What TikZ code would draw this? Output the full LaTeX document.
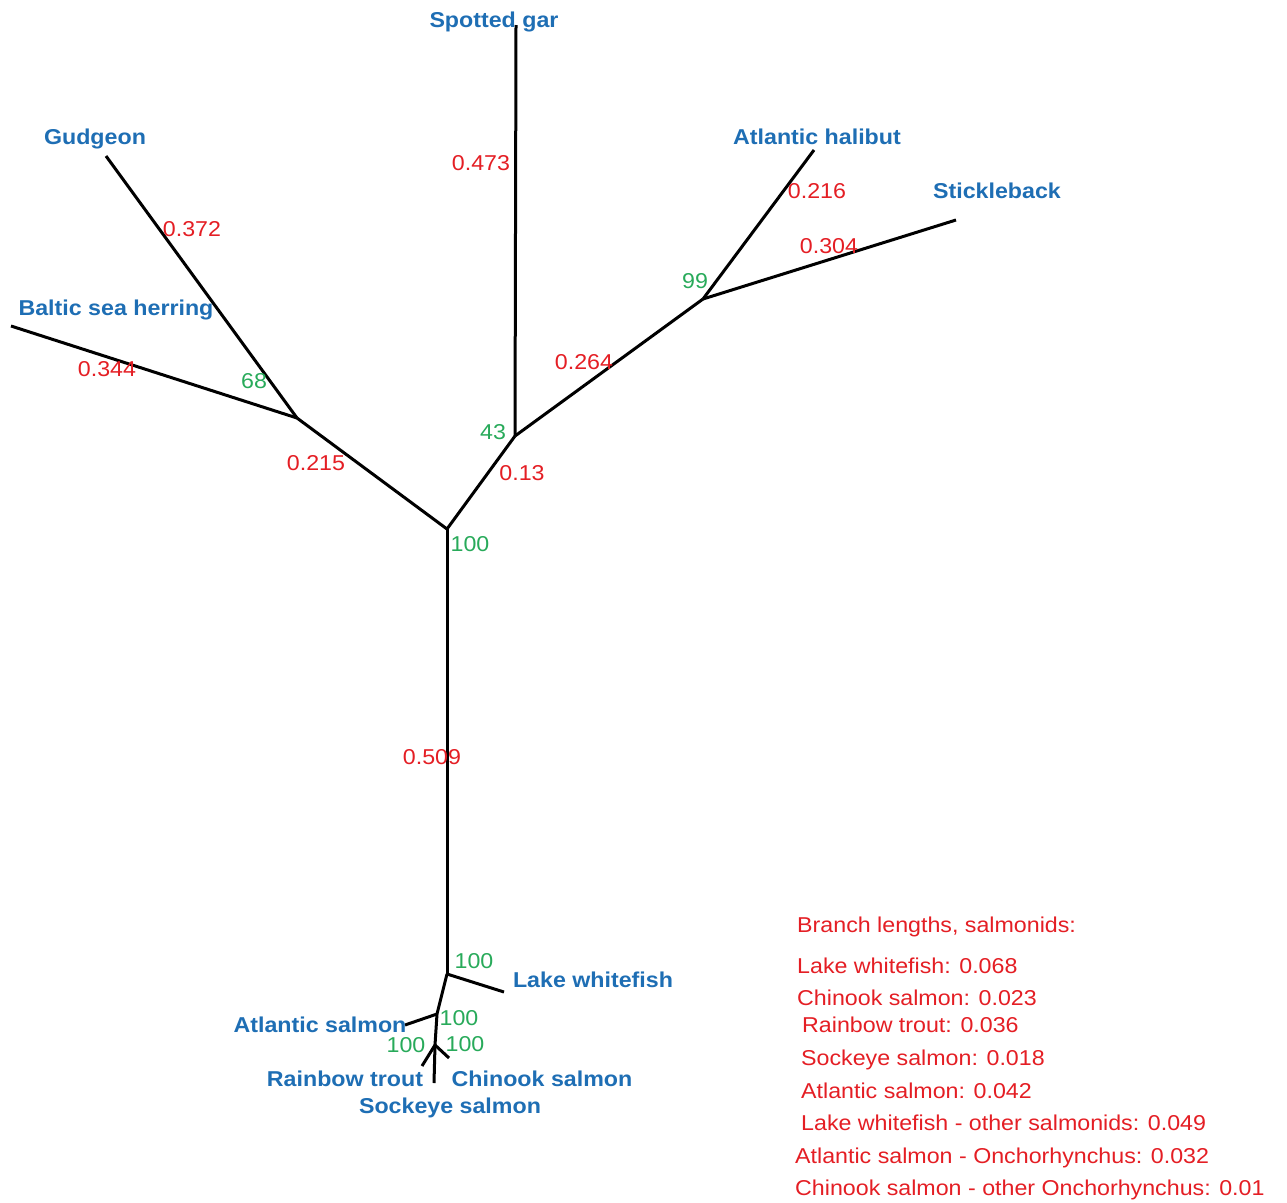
\documentclass[tikz,border=0pt]{standalone}
\usepackage{fontspec}
\setmainfont[FakeStretch=1.08]{Liberation Sans}
\definecolor{tipblue}{RGB}{30,110,180}
\definecolor{lenred}{RGB}{228,30,36}
\definecolor{bootgreen}{RGB}{40,170,90}
\begin{document}
\begin{tikzpicture}[x=1pt,y=-1pt,
  branch/.style={line width=3pt,black,line cap=butt,line join=round},
  lbl/.style={inner sep=0pt,text height=15.5pt,text depth=0pt,font=\fontsize{21.5}{25}\selectfont},
  tip/.style={lbl,text=tipblue,font=\fontsize{21.5}{25}\selectfont\bfseries},
  blen/.style={lbl,text=lenred},
  boot/.style={lbl,text=bootgreen},
  legend/.style={lbl,text=lenred,anchor=west}]
\useasboundingbox (0,0) rectangle (1287,1202);
% internal nodes
\coordinate (R) at (447,529);
\coordinate (L) at (297,418);
\coordinate (M) at (515,436);
\coordinate (H) at (703,299);
\coordinate (S1) at (447,974);
\coordinate (S2) at (437,1014);
\coordinate (S3) at (435,1045);
% tips
\coordinate (tGud) at (106,156);
\coordinate (tBal) at (11,326);
\coordinate (tGar) at (516,25);
\coordinate (tHal) at (814,150);
\coordinate (tSti) at (956,220);
\coordinate (tLak) at (504,992);
\coordinate (tAtl) at (405,1025);
\coordinate (tRai) at (422,1066);
\coordinate (tChi) at (449,1058);
\coordinate (tSoc) at (434,1083);
% branches
\draw[branch] (R) -- (S1);
\draw[branch] (R) -- (L);
\draw[branch] (L) -- (tGud);
\draw[branch] (L) -- (tBal);
\draw[branch] (R) -- (M);
\draw[branch] (M) -- (tGar);
\draw[branch] (M) -- (H);
\draw[branch] (H) -- (tHal);
\draw[branch] (H) -- (tSti);
\draw[branch] (S1) -- (tLak);
\draw[branch] (S1) -- (S2);
\draw[branch] (S2) -- (tAtl);
\draw[branch] (S2) -- (S3);
\draw[branch] (S3) -- (tRai);
\draw[branch] (S3) -- (tChi);
\draw[branch] (S3) -- (tSoc);
% tip labels
\node[tip] (nGar) at (494,20) {Spotted gar};
\node[tip] (nGud) at (95,137) {Gudgeon};
\node[tip] (nBal) at (116,308) {Baltic sea herring};
\node[tip] (nHal) at (817,137) {Atlantic halibut};
\node[tip] (nSti) at (997,191) {Stickleback};
\node[tip] (nLak) at (593,980) {Lake whitefish};
\node[tip] (nAtl) at (320,1025) {Atlantic salmon};
\node[tip] (nRai) at (345,1079) {Rainbow trout};
\node[tip] (nChi) at (542,1079) {Chinook salmon};
\node[tip] (nSoc) at (450,1106) {Sockeye salmon};
% branch lengths
\node[blen] (b1) at (481,163) {0.473};
\node[blen] (b2) at (192,229) {0.372};
\node[blen] (b3) at (107,369) {0.344};
\node[blen] (b4) at (316,463) {0.215};
\node[blen] (b5) at (817,191) {0.216};
\node[blen] (b6) at (829,246) {0.304};
\node[blen] (b7) at (584,362) {0.264};
\node[blen] (b8) at (522,473) {0.13};
\node[blen] (b9) at (432,757) {0.509};
% bootstrap values
\node[boot] (g1) at (254,381) {68};
\node[boot] (g2) at (493,432) {43};
\node[boot] (g3) at (695,281) {99};
\node[boot] (g4) at (470,544) {100};
\node[boot] (g5) at (474,961) {100};
\node[boot] (g6) at (459,1018) {100};
\node[boot] (g7) at (406,1045) {100};
\node[boot] (g8) at (465,1044) {100};
% legend
\node[legend] (l0) at (797,925) {Branch lengths, salmonids:};
\node[legend] (l1) at (797,966) {Lake whitefish: 0.068};
\node[legend] (l2) at (797,998) {Chinook salmon: 0.023};
\node[legend] (l3) at (802,1025) {Rainbow trout: 0.036};
\node[legend] (l4) at (801,1058) {Sockeye salmon: 0.018};
\node[legend] (l5) at (801,1091) {Atlantic salmon: 0.042};
\node[legend] (l6) at (801,1123) {Lake whitefish - other salmonids: 0.049};
\node[legend] (l7) at (795,1156) {Atlantic salmon - Onchorhynchus: 0.032};
\node[legend] (l8) at (795,1188) {Chinook salmon - other Onchorhynchus: 0.01};
\end{tikzpicture}
\end{document}
